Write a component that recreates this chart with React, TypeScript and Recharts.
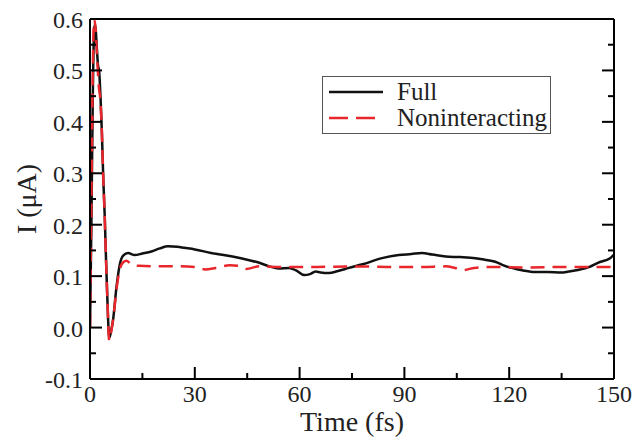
import { LineChart, Line, XAxis, YAxis, Legend } from "recharts";

const fullTime = [
  0, 0.4, 0.8, 1.2, 1.5, 1.9, 2.3, 2.6, 3.0, 3.4, 3.8, 4.2, 4.6, 5.0, 5.5, 6.0,
  6.6, 7.6, 8.6, 9.5, 10.9, 12.8, 15, 17.6, 20, 22.3, 25, 27, 30, 34.7, 40.8,
  45.6, 48, 51.3, 54, 57, 59, 61.3, 63, 64.6, 66, 68.4, 71, 74.1, 78, 83.6, 88.4,
  92, 95, 98, 101.8, 106, 110.3, 113, 116, 118, 120.7, 124, 127.4, 131, 134.9,
  137, 139.7, 143, 145.4, 148.9, 150,
];
const fullCurrent = [
  0, 0.2, 0.45, 0.58, 0.59, 0.55, 0.51, 0.5, 0.45, 0.38, 0.29, 0.22, 0.13, 0.05,
  -0.02, -0.008, 0.015, 0.08, 0.125, 0.14, 0.145, 0.141, 0.144, 0.148, 0.154,
  0.158, 0.157, 0.155, 0.152, 0.145, 0.138, 0.131, 0.127, 0.119, 0.115, 0.116,
  0.111, 0.102, 0.104, 0.109, 0.107, 0.106, 0.11, 0.116, 0.123, 0.135, 0.141,
  0.143, 0.145, 0.142, 0.138, 0.137, 0.135, 0.132, 0.128, 0.122, 0.116, 0.111,
  0.108, 0.108, 0.107, 0.109, 0.112, 0.118, 0.126, 0.135, 0.142,
];

const nonintTime = [
  0, 0.4, 0.8, 1.2, 1.6, 2.0, 2.5, 3.0, 3.4, 3.8, 4.2, 4.6, 5.0, 5.5, 6.0, 6.6,
  7.6, 8.6, 9.5, 10.5, 12, 14, 20, 26, 30, 33, 36, 40, 42.5, 44.7, 48.5, 55, 65,
  75, 85, 95, 101.8, 104.5, 106.9, 110, 115, 125, 135, 145, 150,
];
const nonintCurrent = [
  0, 0.25, 0.5, 0.6, 0.58, 0.53, 0.47, 0.44, 0.38, 0.29, 0.22, 0.13, 0.05,
  -0.025, -0.01, 0.015, 0.075, 0.115, 0.127, 0.13, 0.122, 0.12, 0.119, 0.119,
  0.118, 0.113, 0.116, 0.121, 0.12, 0.114, 0.119, 0.118, 0.118, 0.119, 0.118,
  0.118, 0.119, 0.116, 0.112, 0.116, 0.118, 0.117, 0.118, 0.118, 0.118,
];

const xTicks = [0, 15, 30, 45, 60, 75, 90, 105, 120, 135, 150];
const yTicks = [-0.1, -0.05, 0, 0.05, 0.1, 0.15, 0.2, 0.25, 0.3, 0.35, 0.4, 0.45, 0.5, 0.55, 0.6];

const fullData = fullTime.map((t, i) => ({ t, v: fullCurrent[i] }));
const nonintData = nonintTime.map((t, i) => ({ t, v: nonintCurrent[i] }));

const FONT = '"Liberation Serif", "Times New Roman", serif';
const RED = "#e8262b";
const MAJOR = 12;
const MINOR = 6;

const isMajorX = (v: number) => Math.round(v) % 30 === 0;
const isMajorY = (v: number) => Math.round(v * 100) % 10 === 0;

function BottomTick({ x, y, payload }: any) {
  const major = isMajorX(payload.value);
  return (
    <g>
      <line x1={x} x2={x} y1={y} y2={y - (major ? MAJOR : MINOR)} stroke="#000" strokeWidth={2} />
      {major && (
        <text x={x} y={y + 23} textAnchor="middle" fontSize={24} fontFamily={FONT} fill="#222">
          {payload.value}
        </text>
      )}
    </g>
  );
}

function TopTick({ x, y, payload }: any) {
  const major = isMajorX(payload.value);
  return <line x1={x} x2={x} y1={y} y2={y + (major ? MAJOR : MINOR)} stroke="#000" strokeWidth={2} />;
}

function LeftTick({ x, y, payload }: any) {
  const major = isMajorY(payload.value);
  return (
    <g>
      <line x1={x} x2={x + (major ? MAJOR : MINOR)} y1={y} y2={y} stroke="#000" strokeWidth={2} />
      {major && (
        <text x={x - 7} y={y + 9} textAnchor="end" fontSize={24} fontFamily={FONT} fill="#222">
          {payload.value.toFixed(1)}
        </text>
      )}
    </g>
  );
}

function RightTick({ x, y, payload }: any) {
  const major = isMajorY(payload.value);
  return <line x1={x} x2={x - (major ? MAJOR : MINOR)} y1={y} y2={y} stroke="#000" strokeWidth={2} />;
}

const legendItems = [
  { name: "Full", color: "#111", dash: undefined, len: 54 },
  { name: "Noninteracting", color: RED, dash: "19 8", len: 46 },
];

function LegendBox() {
  return (
    <div
      style={{
        width: 229,
        height: 58,
        border: "1px solid #555",
        background: "#fff",
        fontFamily: FONT,
        fontSize: 25,
        color: "#222",
        boxSizing: "border-box",
        paddingTop: 2,
      }}
    >
      {legendItems.map((item) => (
        <div key={item.name} style={{ display: "flex", alignItems: "center", height: 26 }}>
          <svg width={68} height={10} style={{ marginLeft: 6 }}>
            <line x1={0} x2={item.len} y1={5} y2={5} stroke={item.color} strokeWidth={2.5} strokeDasharray={item.dash} />
          </svg>
          <span style={{ lineHeight: "26px" }}>{item.name}</span>
        </div>
      ))}
    </div>
  );
}

export default function App() {
  return (
    <div style={{ position: "absolute", left: 0, top: 0, width: 634, height: 437, background: "#fff" }}>
      <LineChart width={634} height={437} margin={{ top: 18, right: 19, bottom: 57, left: 89 }}>
        <XAxis
          dataKey="t"
          type="number"
          domain={[0, 150]}
          ticks={xTicks}
          height={1}
          tickSize={0}
          tickMargin={0}
          tickLine={false}
          tick={<BottomTick />}
          interval={0}
          axisLine={{ stroke: "#000", strokeWidth: 2 }}
          allowDataOverflow
          label={{ value: "Time (fs)", position: "bottom", offset: 31, fontSize: 28, fontFamily: FONT, fill: "#222" }}
        />
        <XAxis
          xAxisId="top"
          orientation="top"
          type="number"
          domain={[0, 150]}
          ticks={xTicks}
          height={1}
          tickSize={0}
          tickMargin={0}
          tickLine={false}
          tick={<TopTick />}
          interval={0}
          axisLine={{ stroke: "#000", strokeWidth: 2 }}
          allowDataOverflow
        />
        <YAxis
          type="number"
          domain={[-0.1, 0.6]}
          ticks={yTicks}
          width={1}
          tickSize={0}
          tickMargin={0}
          tickLine={false}
          tick={<LeftTick />}
          interval={0}
          axisLine={{ stroke: "#000", strokeWidth: 2 }}
          allowDataOverflow
          label={{
            value: "I (μA)",
            angle: -90,
            position: "left",
            offset: 63,
            fontSize: 28,
            fontFamily: FONT,
            fill: "#222",
            style: { textAnchor: "middle" },
          }}
        />
        <YAxis
          yAxisId="right"
          orientation="right"
          type="number"
          domain={[-0.1, 0.6]}
          ticks={yTicks}
          width={1}
          tickSize={0}
          tickMargin={0}
          tickLine={false}
          tick={<RightTick />}
          interval={0}
          axisLine={{ stroke: "#000", strokeWidth: 2 }}
          allowDataOverflow
        />
        <Legend
          layout="vertical"
          align="center"
          verticalAlign="middle"
          content={<LegendBox />}
          wrapperStyle={{ left: 322, top: 76, width: 229, height: 58 }}
        />
        <Line
          data={fullData}
          dataKey="v"
          name="Full"
          type="monotone"
          stroke="#111"
          strokeWidth={2.5}
          dot={false}
          isAnimationActive={false}
        />
        <Line
          data={nonintData}
          dataKey="v"
          name="Noninteracting"
          type="monotone"
          stroke={RED}
          strokeWidth={2.5}
          strokeDasharray="14 8"
          dot={false}
          isAnimationActive={false}
        />
      </LineChart>
    </div>
  );
}
